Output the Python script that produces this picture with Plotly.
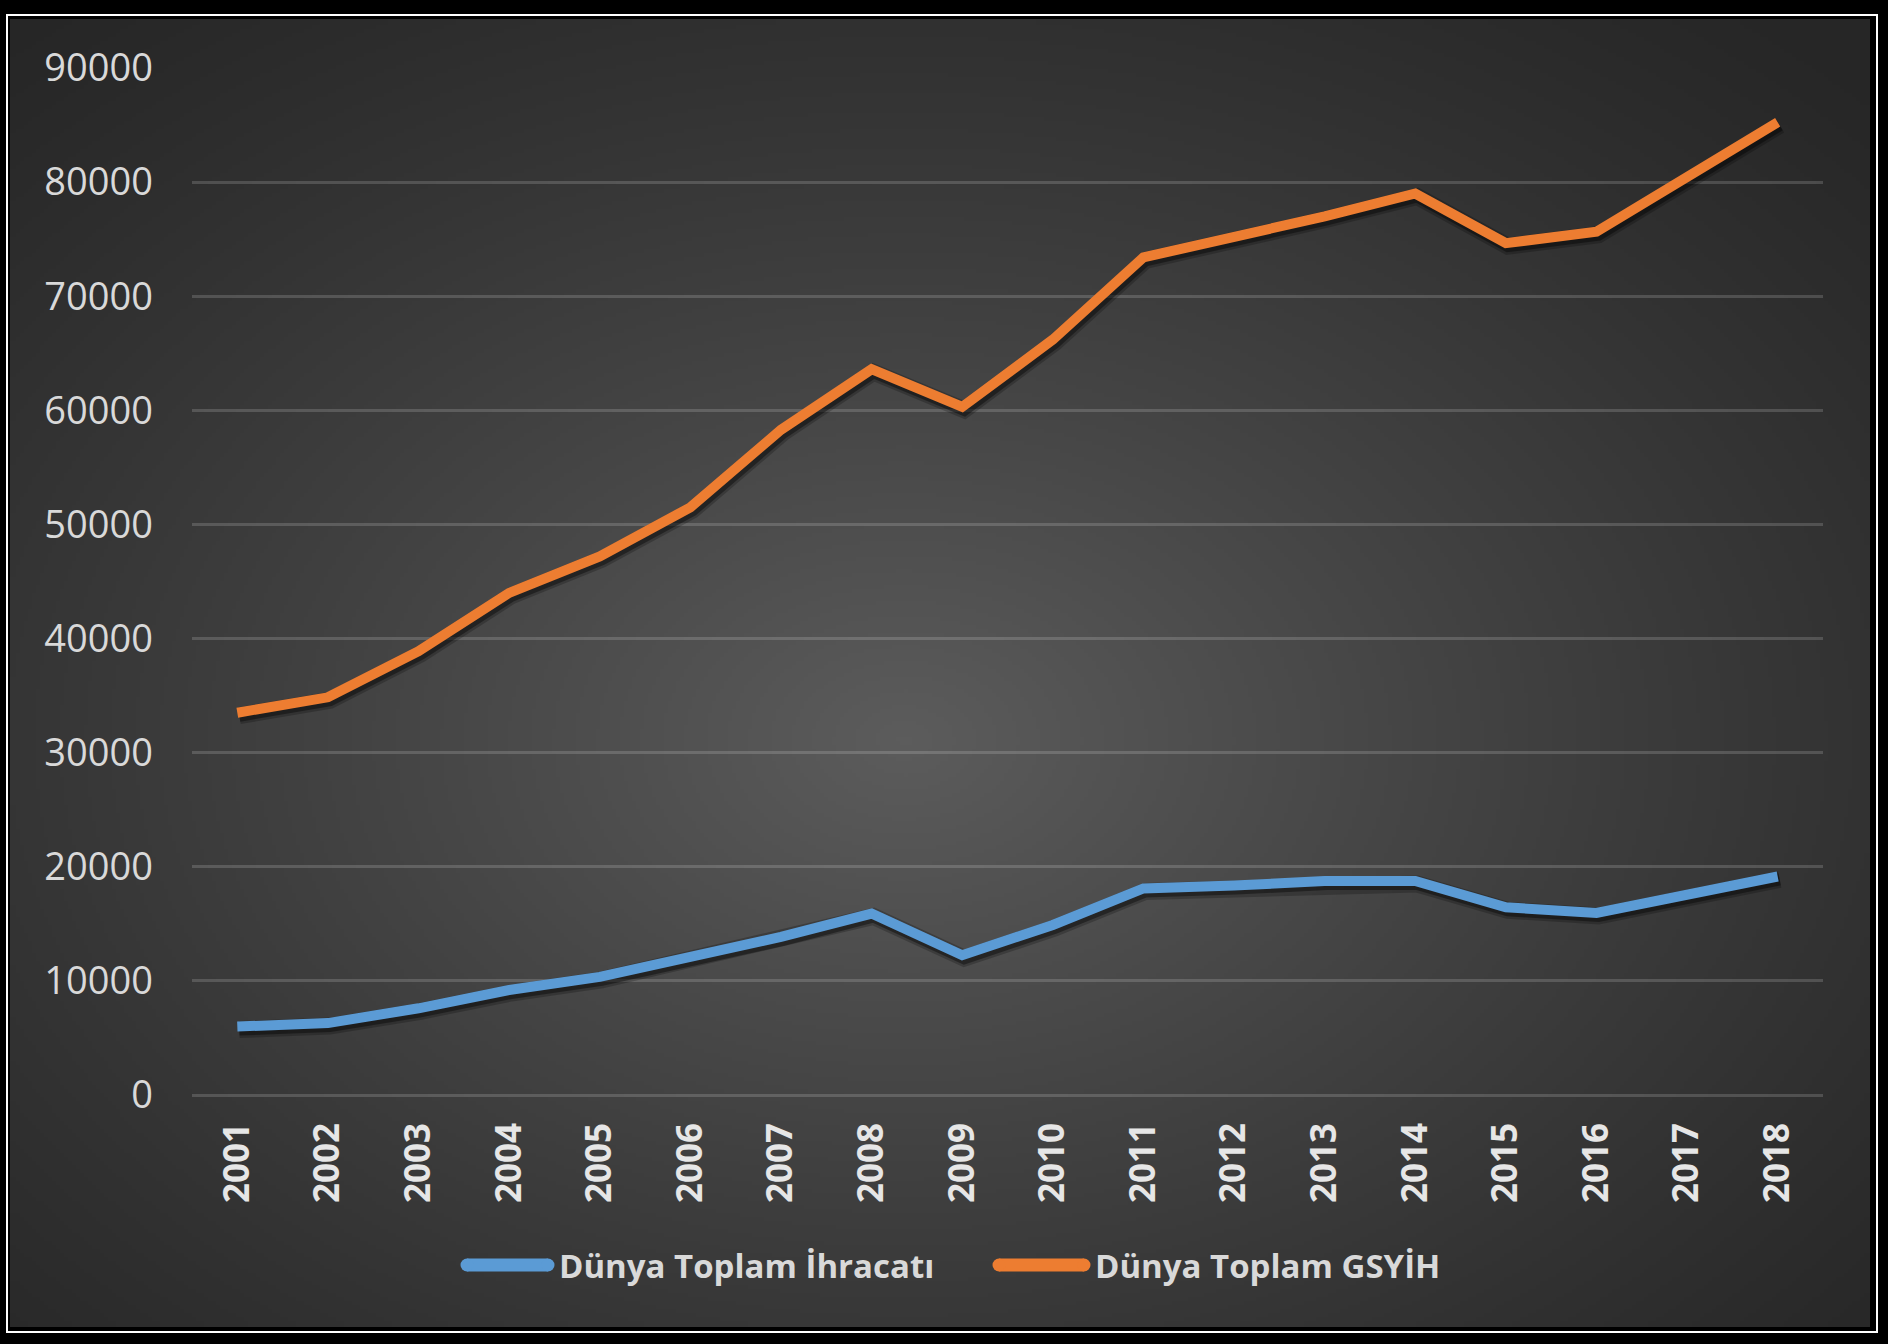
import base64, struct, zlib
import numpy as np
import plotly.graph_objects as go

# ---------------- data ----------------
years = ["2001", "2002", "2003", "2004", "2005", "2006", "2007", "2008", "2009",
         "2010", "2011", "2012", "2013", "2014", "2015", "2016", "2017", "2018"]
export_total = [6000, 6300, 7600, 9200, 10350, 12100, 13850, 15900, 12250,
                14900, 18100, 18350, 18750, 18750, 16450, 15950, 17550, 19150]
gdp_total = [33500, 34850, 38900, 44000, 47200, 51500, 58300, 63600, 60300,
             66200, 73400, 75100, 77000, 79000, 74650, 75650, 80450, 85250]
series_names = ["Dünya Toplam İhracatı", "Dünya Toplam GSYİH"]
y_ticks = [0, 10000, 20000, 30000, 40000, 50000, 60000, 70000, 80000, 90000]

# ---------------- geometry ----------------
W, H = 1888, 1344
L, R, T, B = 192, 65, 68, 249
PW, PH = W - L - R, H - T - B


def px2x(px):
    return (px - L) / PW


def px2y(py):
    return (H - B - py) / PH


# ---------------- radial gradient background (PNG) ----------------
def gradient_png(w, h):
    yy, xx = np.mgrid[0:h, 0:w]
    cx, cy = 0.48 * w, 0.55 * h
    d = np.sqrt(((xx - cx) / (w / 2)) ** 2 + ((yy - cy) / (h / 2)) ** 2)
    t = np.clip(1 - d / 1.45, 0, 1) ** 1.2
    c = 38 + (92 - 38) * t
    g = np.clip(np.round(c), 0, 255).astype(np.uint8)
    rgb = np.stack([g, g, g], axis=-1)
    raw = b"".join(b"\x00" + rgb[r].tobytes() for r in range(h))

    def chunk(tag, data):
        return (struct.pack(">I", len(data)) + tag + data +
                struct.pack(">I", zlib.crc32(tag + data) & 0xFFFFFFFF))

    png = (b"\x89PNG\r\n\x1a\n" +
           chunk(b"IHDR", struct.pack(">IIBBBBB", w, h, 8, 2, 0, 0, 0)) +
           chunk(b"IDAT", zlib.compress(raw, 9)) +
           chunk(b"IEND", b""))
    return "data:image/png;base64," + base64.b64encode(png).decode()


bg_src = gradient_png(465, 327)

colors = ["#5B9BD5", "#ED7D31"]
series = [export_total, gdp_total]

fig = go.Figure()

# shadows on base axes (slightly shifted ranges -> offset down/right)
for vals in series:
    fig.add_trace(go.Scatter(x=years, y=vals, mode="lines",
                             line=dict(color="rgba(0,0,0,0.22)", width=17),
                             showlegend=False, hoverinfo="skip",
                             xaxis="x", yaxis="y"))
    fig.add_trace(go.Scatter(x=years, y=vals, mode="lines",
                             line=dict(color="rgba(0,0,0,0.38)", width=12),
                             showlegend=False, hoverinfo="skip",
                             xaxis="x", yaxis="y"))

# main lines on overlay axes
for name, vals, col in zip(series_names, series, colors):
    fig.add_trace(go.Scatter(x=years, y=vals, mode="lines", name=name,
                             line=dict(color=col, width=10), showlegend=False,
                             xaxis="x2", yaxis="y2"))

dy = 3 * 90000 / PH
dx = 2 / (PW / len(years))

# custom legend (long rounded swatches like the original)
legend_y = px2y(1265)
swatches = [(461, 554), (993, 1090)]
text_x = [557, 1093]
shapes = []
annotations = []
for (x0, x1), tx, name, col in zip(swatches, text_x, series_names, colors):
    shapes.append(dict(type="line", xref="paper", yref="paper",
                       x0=px2x(x0 + 6), x1=px2x(x1 - 6), y0=legend_y, y1=legend_y,
                       line=dict(color=col, width=13)))
    for cxp in (x0 + 6, x1 - 6):
        shapes.append(dict(type="circle", xref="paper", yref="paper",
                           x0=px2x(cxp - 6.5), x1=px2x(cxp + 6.5),
                           y0=px2y(1265 + 6.5), y1=px2y(1265 - 6.5),
                           line=dict(width=0), fillcolor=col))
    annotations.append(dict(text=name, xref="paper", yref="paper",
                            x=px2x(tx), y=legend_y, xanchor="left", yanchor="middle",
                            showarrow=False,
                            font=dict(family="Open Sans", size=33, color="#d9d9d9",
                                      weight=700)))

shapes.append(dict(type="rect", xref="paper", yref="paper",
                   x0=px2x(7), x1=px2x(1877), y0=px2y(1332), y1=px2y(15),
                   line=dict(color="#ffffff", width=2), fillcolor="rgba(0,0,0,0)",
                   layer="above"))

fig.update_layout(
    width=W, height=H,
    margin=dict(l=L, r=R, t=T, b=B, pad=0),
    paper_bgcolor="#000000",
    plot_bgcolor="rgba(0,0,0,0)",
    showlegend=False,
    xaxis=dict(type="category", categoryorder="array", categoryarray=years,
               range=[-0.5 - dx, len(years) - 0.5 - dx], visible=False,
               showgrid=False, zeroline=False),
    yaxis=dict(range=[dy, 90000 + dy], visible=False, showgrid=False, zeroline=False),
    xaxis2=dict(type="category", categoryorder="array", categoryarray=years,
                range=[-0.5, len(years) - 0.5], overlaying="x", anchor="y2",
                side="bottom", showgrid=False, zeroline=False, showline=False,
                tickangle=-90, ticks="", ticklabelstandoff=20,
                tickfont=dict(family="Open Sans", size=35, color="#e6e6e6", weight=700)),
    yaxis2=dict(range=[0, 90000], overlaying="y", anchor="x2", side="left",
                tickvals=y_ticks, ticktext=[str(v) for v in y_ticks],
                showgrid=True, gridcolor="rgba(255,255,255,0.16)", gridwidth=2.5,
                zeroline=True, zerolinecolor="rgba(255,255,255,0.16)", zerolinewidth=2.5,
                showline=False, ticks="", ticklabelstandoff=38,
                tickfont=dict(family="Open Sans", size=38, color="#d9d9d9", weight=400)),
    images=[dict(source=bg_src, xref="paper", yref="paper",
                 x=px2x(10), y=px2y(19), sizex=(1870 - 10) / PW, sizey=(1327 - 19) / PH,
                 xanchor="left", yanchor="top", sizing="stretch", layer="below")],
    shapes=shapes,
    annotations=annotations,
    hovermode=False,
)

fig.write_html("out.html",
               config={"displayModeBar": False},
               post_script="document.body.style.margin='0';"
                           "document.body.style.background='#000';")
